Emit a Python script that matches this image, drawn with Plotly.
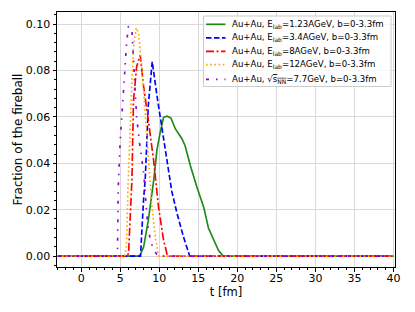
import plotly.graph_objects as go

# ---- data (t in fm, fraction of the fireball) ----
t_green = [-3, 7.5, 8.0, 8.6, 9.3, 9.7, 10.1, 10.55, 11.0, 11.5, 12.05, 12.9, 13.3, 14.0, 14.8, 15.7, 16.3, 17.0, 17.6, 18.2, 40]
f_green = [0, 0, 0.004, 0.0155, 0.033, 0.0457, 0.053, 0.0598, 0.0603, 0.0595, 0.0549, 0.0506, 0.0477, 0.0388, 0.030, 0.021, 0.0121, 0.0067, 0.0024, 0, 0]

t_blue = [-3, 7.6, 8.0, 8.2, 8.6, 9.1, 9.8, 10.35, 11.0, 11.6, 12.27, 13.1, 13.9, 40]
f_blue = [0, 0, 0.025, 0.033, 0.065, 0.0838, 0.067, 0.0557, 0.041, 0.028, 0.0185, 0.0083, 0, 0]

t_red = [-3, 5.9, 6.07, 6.5, 6.7, 7.1, 7.56, 8.0, 8.6, 9.27, 9.9, 10.55, 11.06, 40]
f_red = [0, 0, 0.0013, 0.033, 0.067, 0.0816, 0.0866, 0.073, 0.0586, 0.0414, 0.0213, 0.0069, 0, 0]

t_orange = [-3, 5.6, 5.8, 6.0, 6.4, 6.7, 7.05, 7.35, 7.8, 8.2, 8.6, 9.06, 9.5, 9.9, 40]
f_orange = [0, 0, 0.004, 0.03, 0.067, 0.09, 0.0984, 0.096, 0.080, 0.0615, 0.0414, 0.0213, 0.0083, 0, 0]

t_purple = [-3, 4.5, 4.65, 4.75, 5.0, 5.35, 5.55, 5.8, 6.05, 6.5, 6.7, 7.1, 7.5, 8.0, 8.5, 8.9, 9.3, 9.8, 40]
f_purple = [0, 0, 0.003, 0.03, 0.05, 0.066, 0.078, 0.091, 0.0991, 0.097, 0.085, 0.060, 0.048, 0.036, 0.014, 0.006, 0.003, 0, 0]

labels = [
    "Au+Au, E<sub>lab</sub>=1.23AGeV, b=0-3.3fm",
    "Au+Au, E<sub>lab</sub>=3.4AGeV, b=0-3.3fm",
    "Au+Au, E<sub>lab</sub>=8AGeV, b=0-3.3fm",
    "Au+Au, E<sub>lab</sub>=12AGeV, b=0-3.3fm",
    "Au+Au, √<span style='text-decoration:overline'>s<sub>NN</sub></span>=7.7GeV, b=0-3.3fm",
]

colors = ["#1a8a1a", "#0000ff", "#ff0000", "#ffa500", "#9400d3"]
dashes = ["solid", "5.5px,2.5px", "8px,2.5px,2px,2.5px", "1.6px,2.6px", "3px,7px,1.5px,7px"]
series = [(t_green, f_green), (t_blue, f_blue), (t_red, f_red), (t_orange, f_orange), (t_purple, f_purple)]

W, H = 415, 312
ML, MR, MT, MB = 57, 20, 12, 45
PW, PH = W - ML - MR, H - MT - MB

fig = go.Figure()
for (t, f), name, c, d in zip(series, labels, colors, dashes):
    fig.add_trace(go.Scatter(x=t, y=f, mode="lines", name=name, showlegend=False,
                             line=dict(color=c, width=1.65, dash=d)))

axis_common = dict(
    showline=True, linecolor="black", linewidth=1, mirror=True,
    ticks="outside", ticklen=3.5, tickwidth=1, tickcolor="black",
    showgrid=True, gridcolor="#d9d9d9", gridwidth=1, zeroline=False,
    tickfont=dict(family="DejaVu Sans", size=11, color="black"),
)

fig.update_xaxes(
    range=[-3.1, 40.2], tick0=0, dtick=5, ticklabelstandoff=-3,
    minor=dict(dtick=1, ticks="outside", ticklen=2, tickcolor="black", showgrid=False),
    title=dict(text="t [fm]", font=dict(family="DejaVu Sans", size=11.5, color="black"), standoff=0),
    **axis_common,
)
fig.update_yaxes(
    range=[-0.0047, 0.1052], tick0=0, dtick=0.02, tickformat=".2f",
    minor=dict(dtick=0.004, ticks="outside", ticklen=2, tickcolor="black", showgrid=False),
    title=dict(text="Fraction of the fireball", font=dict(family="DejaVu Sans", size=12, color="black"), standoff=0),
    **axis_common,
)


# ---- legend drawn in the upper-right corner (pixel -> paper) ----
def px(x):
    return (x - ML) / PW


def py(y):
    return (H - MB - y) / PH


bx0, bx1, by0, by1 = 203.5, 391, 16, 86.5
shapes = [dict(type="rect", xref="paper", yref="paper",
               x0=px(bx0), x1=px(bx1), y0=py(by1), y1=py(by0),
               fillcolor="rgba(255,255,255,0.8)", line=dict(color="#cccccc", width=1), layer="above")]
annotations = []
rows = [24.3, 37.8, 51.3, 64.6, 79.3]
for yrow, name, c, d in zip(rows, labels, colors, dashes):
    shapes.append(dict(type="line", xref="paper", yref="paper",
                       x0=px(206), x1=px(225.5), y0=py(yrow), y1=py(yrow),
                       line=dict(color=c, width=1.65, dash=d), layer="above"))
    annotations.append(dict(text=name, xref="paper", yref="paper", x=px(231), y=py(yrow),
                            xanchor="left", yanchor="middle", showarrow=False, borderpad=0,
                            font=dict(family="DejaVu Sans", size=8.6, color="black")))

fig.update_layout(
    width=W, height=H,
    margin=dict(l=ML, r=MR, t=MT, b=MB),
    paper_bgcolor="white", plot_bgcolor="white",
    font=dict(family="DejaVu Sans", color="black"),
    showlegend=False,
    shapes=shapes,
    annotations=annotations,
)

fig.write_html("out.html", config={"displayModeBar": False},
               post_script="document.body.style.margin='0px';document.body.style.overflow='hidden';")
